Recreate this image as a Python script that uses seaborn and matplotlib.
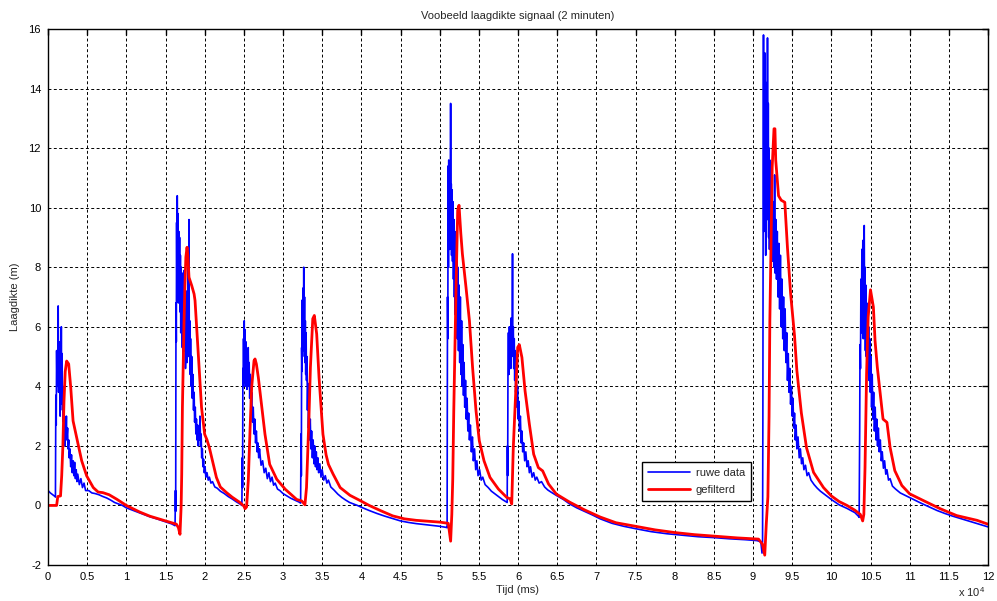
import matplotlib
matplotlib.use("Agg")
import matplotlib.pyplot as plt
import seaborn as sns
import pandas as pd

# ---------------- data (time in units of 10^4 ms, thickness in m) ----------------
raw_points = [
    (0.00, 0.50), (0.03, 0.42), (0.06, 0.36), (0.09, 0.30), (0.095, 0.28),
    (0.098, 2.8), (0.100, 3.7), (0.105, 2.7), (0.110, 5.2), (0.115, 4.0), (0.120, 5.0), (0.125, 4.3),
    (0.130, 6.7), (0.135, 3.8), (0.140, 5.5), (0.145, 4.4), (0.150, 5.2), (0.155, 3.0), (0.160, 4.9),
    (0.165, 3.6), (0.170, 6.0), (0.175, 3.4), (0.180, 5.1), (0.185, 3.2), (0.190, 4.0), (0.195, 2.8),
    (0.200, 3.3), (0.205, 2.4), (0.210, 3.0), (0.215, 2.0), (0.220, 2.9), (0.228, 2.3), (0.235, 3.0),
    (0.240, 2.2), (0.250, 2.6), (0.255, 1.9), (0.265, 2.2), (0.270, 1.6), (0.280, 1.9), (0.290, 1.3),
    (0.300, 1.7), (0.310, 1.1), (0.320, 1.5), (0.330, 1.0), (0.340, 1.45), (0.350, 0.9), (0.360, 1.2),
    (0.370, 0.8), (0.380, 1.05), (0.400, 0.7), (0.420, 0.9), (0.440, 0.6), (0.460, 0.75), (0.480, 0.5),
    (0.520, 0.5), (0.560, 0.42), (0.600, 0.40), (0.650, 0.36), (0.700, 0.30), (0.750, 0.25),
    (0.800, 0.18), (0.850, 0.10), (0.900, 0.05), (0.950, 0.0), (1.000, -0.08), (1.100, -0.18),
    (1.200, -0.28), (1.300, -0.38), (1.400, -0.46), (1.500, -0.55), (1.580, -0.62), (1.622, -0.68),
    (1.627, 0.5), (1.630, -0.2), (1.634, 6.8), (1.638, 5.5), (1.642, 9.5), (1.646, 7.0), (1.650, 10.4),
    (1.655, 8.0), (1.660, 9.8), (1.665, 6.8), (1.670, 9.2), (1.675, 7.2), (1.680, 9.0), (1.685, 6.5),
    (1.690, 8.4), (1.695, 5.8), (1.700, 8.0), (1.705, 6.2), (1.710, 7.6), (1.715, 5.3), (1.720, 7.8),
    (1.725, 5.0), (1.730, 7.5), (1.735, 5.6), (1.740, 7.9), (1.745, 5.2), (1.750, 7.0), (1.755, 4.6),
    (1.760, 6.6), (1.765, 5.0), (1.770, 7.2), (1.775, 4.8), (1.780, 6.5), (1.785, 5.0), (1.790, 8.0),
    (1.795, 5.5), (1.800, 9.6), (1.804, 5.0), (1.810, 6.2), (1.815, 4.4), (1.820, 5.6), (1.828, 4.0),
    (1.835, 5.0), (1.842, 3.6), (1.850, 4.4), (1.858, 3.2), (1.865, 3.8), (1.872, 2.8), (1.880, 3.3),
    (1.888, 2.4), (1.895, 2.9), (1.902, 2.2), (1.910, 2.7), (1.918, 2.0), (1.925, 2.6), (1.932, 2.2),
    (1.940, 3.0), (1.948, 2.0), (1.955, 2.4), (1.962, 1.6), (1.970, 1.9), (1.978, 1.3), (1.986, 1.55),
    (1.995, 1.1), (2.005, 1.3), (2.015, 0.95), (2.030, 1.1), (2.045, 0.85), (2.060, 0.95), (2.080, 0.75),
    (2.100, 0.8), (2.130, 0.62), (2.160, 0.58), (2.200, 0.48), (2.250, 0.40), (2.300, 0.30),
    (2.350, 0.22), (2.400, 0.13), (2.450, 0.05), (2.475, 0.0),
    (2.480, 1.6), (2.484, 0.6), (2.488, 4.6), (2.492, 4.0), (2.496, 5.6), (2.500, 4.2), (2.505, 6.2),
    (2.510, 4.6), (2.515, 5.9), (2.520, 4.0), (2.525, 5.5), (2.530, 4.3), (2.535, 5.2), (2.540, 3.9),
    (2.545, 5.0), (2.550, 4.2), (2.556, 5.3), (2.562, 4.0), (2.568, 4.8), (2.575, 3.6), (2.582, 4.4),
    (2.590, 3.2), (2.600, 3.8), (2.610, 2.8), (2.620, 3.3), (2.630, 2.4), (2.640, 2.9), (2.650, 2.1),
    (2.660, 2.5), (2.670, 1.8), (2.680, 2.1), (2.690, 1.6), (2.700, 1.9), (2.720, 1.35), (2.740, 1.5),
    (2.760, 1.1), (2.780, 1.25), (2.800, 0.9), (2.820, 1.1), (2.840, 0.8), (2.860, 0.95), (2.880, 0.68),
    (2.900, 0.75), (2.930, 0.55), (2.960, 0.5), (3.000, 0.4), (3.050, 0.32), (3.100, 0.24),
    (3.150, 0.18), (3.200, 0.12), (3.225, 0.08),
    (3.230, 2.4), (3.234, 1.0), (3.238, 5.3), (3.242, 4.5), (3.246, 6.9), (3.250, 5.0), (3.255, 7.3),
    (3.260, 5.6), (3.265, 8.0), (3.270, 5.2), (3.275, 7.0), (3.280, 4.8), (3.285, 6.2), (3.290, 4.4),
    (3.295, 5.8), (3.300, 4.2), (3.306, 5.0), (3.312, 3.2), (3.318, 4.1), (3.325, 2.6), (3.332, 3.4),
    (3.340, 2.2), (3.348, 2.9), (3.356, 1.9), (3.365, 2.5), (3.375, 1.6), (3.385, 2.2), (3.395, 1.4),
    (3.405, 2.0), (3.415, 1.3), (3.425, 1.8), (3.435, 1.2), (3.445, 1.6), (3.455, 1.1), (3.470, 1.4),
    (3.485, 0.95), (3.500, 1.2), (3.520, 0.85), (3.540, 1.0), (3.560, 0.75), (3.580, 0.85),
    (3.610, 0.62), (3.650, 0.52), (3.700, 0.38), (3.750, 0.27), (3.800, 0.18), (3.850, 0.10),
    (3.900, 0.05), (3.950, 0.0), (4.000, -0.06), (4.100, -0.17), (4.200, -0.27), (4.300, -0.36),
    (4.400, -0.44), (4.500, -0.52), (4.600, -0.57), (4.700, -0.61), (4.800, -0.64), (4.900, -0.67),
    (5.000, -0.70), (5.090, -0.74), (5.095, -0.75),
    (5.098, 3.0), (5.100, 7.0), (5.104, 5.6), (5.108, 11.4), (5.112, 8.0), (5.116, 11.6), (5.120, 9.8),
    (5.124, 11.0), (5.128, 8.6), (5.132, 11.3), (5.136, 9.4), (5.140, 13.5), (5.144, 9.0), (5.148, 10.8),
    (5.152, 8.4), (5.158, 10.6), (5.164, 8.2), (5.170, 10.2), (5.176, 7.6), (5.182, 9.6), (5.188, 7.0),
    (5.194, 9.2), (5.200, 6.4), (5.206, 8.8), (5.212, 6.0), (5.218, 8.4), (5.225, 5.6), (5.232, 8.0),
    (5.240, 5.2), (5.248, 7.4), (5.256, 4.8), (5.264, 7.0), (5.272, 4.4), (5.280, 6.2), (5.288, 4.0),
    (5.296, 5.4), (5.304, 3.7), (5.312, 4.8), (5.320, 3.3), (5.330, 4.2), (5.340, 2.9), (5.350, 3.6),
    (5.360, 2.5), (5.370, 3.1), (5.380, 2.2), (5.392, 2.7), (5.405, 1.8), (5.418, 2.3), (5.430, 1.5),
    (5.445, 1.9), (5.460, 1.2), (5.475, 1.5), (5.490, 1.0), (5.510, 1.2), (5.530, 0.85), (5.550, 0.95),
    (5.580, 0.7), (5.620, 0.6), (5.660, 0.48), (5.700, 0.4), (5.750, 0.3), (5.800, 0.2), (5.850, 0.12),
    (5.862, 0.1),
    (5.865, 2.0), (5.868, 1.0), (5.872, 4.6), (5.878, 5.8), (5.884, 4.4), (5.890, 6.0), (5.896, 4.8),
    (5.902, 5.8), (5.908, 4.6), (5.914, 6.3), (5.920, 5.0), (5.926, 6.2), (5.930, 8.45), (5.934, 5.4),
    (5.940, 6.0), (5.946, 4.6), (5.952, 5.6), (5.958, 4.2), (5.964, 5.2), (5.970, 3.8), (5.978, 4.6),
    (5.986, 3.3), (5.994, 4.0), (6.002, 2.9), (6.010, 3.5), (6.020, 2.5), (6.030, 3.0), (6.040, 2.1),
    (6.050, 2.5), (6.060, 1.8), (6.072, 2.1), (6.085, 1.5), (6.100, 1.8), (6.115, 1.3), (6.130, 1.5),
    (6.145, 1.1), (6.160, 1.3), (6.180, 0.95), (6.200, 1.1), (6.220, 0.85), (6.240, 0.95), (6.270, 0.75),
    (6.300, 0.8), (6.340, 0.62), (6.380, 0.52), (6.420, 0.45), (6.500, 0.32), (6.580, 0.2),
    (6.660, 0.05), (6.750, -0.08), (6.850, -0.2), (6.950, -0.32), (7.050, -0.45), (7.200, -0.6),
    (7.350, -0.7), (7.500, -0.78), (7.700, -0.88), (7.900, -0.95), (8.100, -1.0), (8.300, -1.05),
    (8.500, -1.08), (8.700, -1.12), (8.900, -1.15), (9.050, -1.18), (9.100, -1.22), (9.115, -1.6),
    (9.122, -1.2), (9.126, 2.8), (9.130, 10.9), (9.134, 15.8), (9.138, 9.2), (9.142, 14.0), (9.146, 10.6),
    (9.150, 15.2), (9.154, 11.0), (9.158, 13.0), (9.162, 8.4), (9.166, 12.2), (9.170, 10.0),
    (9.175, 14.2), (9.180, 10.4), (9.185, 15.7), (9.190, 9.6), (9.195, 13.5), (9.200, 9.0),
    (9.205, 12.0), (9.210, 8.6), (9.215, 11.6), (9.220, 8.8), (9.228, 11.2), (9.236, 8.4),
    (9.244, 10.6), (9.252, 8.2), (9.260, 10.2), (9.268, 8.0), (9.276, 11.1), (9.284, 7.8),
    (9.292, 9.6), (9.300, 7.6), (9.310, 9.2), (9.320, 7.0), (9.330, 8.8), (9.340, 6.6), (9.350, 8.4),
    (9.360, 6.0), (9.370, 7.6), (9.380, 5.6), (9.390, 7.0), (9.400, 5.2), (9.410, 6.6), (9.420, 4.8),
    (9.430, 5.8), (9.440, 4.2), (9.450, 5.1), (9.460, 3.8), (9.470, 4.6), (9.480, 3.4), (9.490, 4.0),
    (9.500, 3.0), (9.510, 3.6), (9.520, 2.6), (9.530, 3.1), (9.540, 2.2), (9.550, 2.7), (9.560, 1.9),
    (9.575, 2.3), (9.590, 1.6), (9.605, 1.9), (9.620, 1.4), (9.635, 1.6), (9.650, 1.2), (9.670, 1.35),
    (9.690, 1.0), (9.710, 1.1), (9.740, 0.85), (9.780, 0.7), (9.820, 0.58), (9.860, 0.48),
    (9.920, 0.36), (10.00, 0.2), (10.10, 0.02), (10.20, -0.1), (10.30, -0.24), (10.345, -0.36),
    (10.355, -0.4), (10.362, 2.5), (10.366, 5.4), (10.372, 4.6), (10.378, 7.6), (10.384, 5.8),
    (10.390, 8.6), (10.396, 6.2), (10.402, 8.9), (10.408, 5.6), (10.414, 8.2), (10.420, 9.4),
    (10.425, 6.0), (10.430, 8.0), (10.435, 5.2), (10.440, 7.4), (10.446, 5.0), (10.452, 6.8),
    (10.458, 4.8), (10.464, 6.4), (10.470, 4.6), (10.476, 6.0), (10.482, 4.2), (10.490, 5.6),
    (10.498, 3.8), (10.506, 5.0), (10.514, 3.3), (10.522, 4.4), (10.530, 2.9), (10.540, 3.8),
    (10.550, 2.5), (10.560, 3.3), (10.570, 2.2), (10.580, 2.9), (10.590, 2.0), (10.600, 2.6),
    (10.612, 1.8), (10.625, 2.2), (10.638, 1.5), (10.650, 1.8), (10.665, 1.25), (10.680, 1.5),
    (10.695, 1.05), (10.710, 1.2), (10.730, 0.85), (10.750, 0.9), (10.780, 0.65), (10.820, 0.55),
    (10.880, 0.42), (10.950, 0.33), (11.050, 0.2), (11.150, 0.07), (11.250, -0.05), (11.350, -0.17),
    (11.450, -0.27), (11.550, -0.36), (11.650, -0.44), (11.750, -0.52), (11.850, -0.6),
    (11.950, -0.68), (12.000, -0.72),
]

filtered_points = [
    (0.000, 0.0), (0.110, 0.0), (0.125, 0.3), (0.160, 0.32), (0.175, 1.0), (0.190, 2.0), (0.204, 3.5),
    (0.220, 4.5), (0.238, 4.85), (0.264, 4.75), (0.290, 3.97), (0.320, 2.84), (0.366, 2.28),
    (0.430, 1.5), (0.494, 0.99), (0.578, 0.6), (0.640, 0.45), (0.700, 0.43), (0.780, 0.36),
    (0.877, 0.21), (1.000, 0.0), (1.170, -0.22), (1.300, -0.36), (1.450, -0.48), (1.550, -0.56),
    (1.640, -0.63), (1.665, -0.75), (1.685, -0.97), (1.700, 0.0), (1.707, 1.05), (1.712, 2.4),
    (1.716, 3.3), (1.725, 4.6), (1.736, 6.1), (1.748, 7.4), (1.760, 8.34), (1.775, 8.67),
    (1.785, 8.4), (1.800, 7.66), (1.835, 7.38), (1.865, 7.1), (1.877, 6.88), (1.900, 5.87),
    (1.930, 4.52), (1.960, 3.29), (2.000, 2.39), (2.030, 2.2), (2.060, 1.94), (2.090, 1.61),
    (2.150, 0.94), (2.200, 0.62), (2.280, 0.43), (2.350, 0.28), (2.450, 0.1), (2.500, -0.02),
    (2.515, -0.11), (2.535, -0.05), (2.557, 0.84), (2.580, 2.6), (2.600, 3.97), (2.630, 4.86),
    (2.643, 4.92), (2.660, 4.75), (2.685, 4.3), (2.730, 3.29), (2.770, 2.39), (2.830, 1.38),
    (2.920, 0.88), (3.030, 0.54), (3.175, 0.2), (3.240, 0.15), (3.280, 0.02), (3.300, 0.6),
    (3.330, 2.84), (3.350, 4.64), (3.380, 6.27), (3.400, 6.38), (3.430, 5.76), (3.460, 4.3),
    (3.510, 2.39), (3.550, 1.7), (3.580, 1.38), (3.640, 1.05), (3.730, 0.6), (3.855, 0.34),
    (3.980, 0.17), (4.100, 0.0), (4.250, -0.18), (4.400, -0.35), (4.550, -0.45), (4.700, -0.5),
    (4.850, -0.53), (5.000, -0.56), (5.110, -0.6), (5.140, -1.2), (5.155, -0.3), (5.167, 0.88),
    (5.180, 3.18), (5.210, 7.44), (5.230, 9.91), (5.247, 10.08), (5.270, 9.13), (5.290, 8.45),
    (5.336, 7.33), (5.380, 6.2), (5.420, 4.64), (5.464, 3.18), (5.506, 2.17), (5.566, 1.5),
    (5.643, 0.94), (5.750, 0.55), (5.856, 0.27), (5.900, 0.22), (5.920, 0.05), (5.940, 1.95),
    (5.975, 4.08), (5.996, 5.31), (6.017, 5.4), (6.050, 4.97), (6.090, 3.85), (6.145, 2.73),
    (6.200, 1.72), (6.260, 1.27), (6.315, 1.16), (6.390, 0.72), (6.490, 0.38), (6.660, 0.11),
    (6.850, -0.15), (7.050, -0.39), (7.250, -0.58), (7.500, -0.7), (7.750, -0.82), (8.000, -0.91),
    (8.250, -0.98), (8.500, -1.03), (8.800, -1.09), (9.070, -1.13), (9.120, -1.3), (9.150, -1.67),
    (9.170, -0.6), (9.190, 0.29), (9.205, 3.0), (9.215, 6.18), (9.245, 11.36), (9.268, 12.65),
    (9.280, 12.65), (9.290, 11.6), (9.326, 10.4), (9.360, 10.25), (9.406, 10.18), (9.440, 8.65),
    (9.480, 7.12), (9.530, 5.7), (9.560, 4.53), (9.617, 3.11), (9.683, 1.94), (9.773, 1.11),
    (9.900, 0.6), (10.00, 0.32), (10.10, 0.13), (10.20, 0.0), (10.30, -0.16), (10.37, -0.3),
    (10.40, -0.52), (10.415, -0.3), (10.43, 1.27), (10.45, 4.42), (10.47, 6.32), (10.50, 7.24),
    (10.537, 6.66), (10.558, 5.53), (10.587, 4.64), (10.62, 3.85), (10.66, 2.9), (10.71, 2.79),
    (10.75, 1.95), (10.81, 1.17), (10.90, 0.67), (11.00, 0.39), (11.17, 0.17), (11.39, -0.11),
    (11.60, -0.34), (11.86, -0.5), (12.00, -0.63),
]

x_ticks = [0, 0.5, 1, 1.5, 2, 2.5, 3, 3.5, 4, 4.5, 5, 5.5, 6, 6.5, 7, 7.5, 8, 8.5, 9, 9.5,
           10, 10.5, 11, 11.5, 12]
x_tick_labels = ["0", "0.5", "1", "1.5", "2", "2.5", "3", "3.5", "4", "4.5", "5", "5.5", "6",
                 "6.5", "7", "7.5", "8", "8.5", "9", "9.5", "10", "10.5", "11", "11.5", "12"]
y_ticks = [-2, 0, 2, 4, 6, 8, 10, 12, 14, 16]
y_tick_labels = ["-2", "0", "2", "4", "6", "8", "10", "12", "14", "16"]

series_names = ["ruwe data", "gefilterd"]
title_text = "Voobeeld laagdikte signaal (2 minuten)"
x_label = "Tijd (ms)"
y_label = "Laagdikte (m)"

# ---------------- build frames ----------------
raw_df = pd.DataFrame(raw_points, columns=["t", "h"])
filt_df = pd.DataFrame(filtered_points, columns=["t", "h"])

sns.set_style("white")
plt.rcParams["font.family"] = ["Liberation Sans", "DejaVu Sans"]
plt.rcParams["mathtext.default"] = "regular"

fig = plt.figure(figsize=(9.97, 6.01), dpi=100)
ax = fig.add_axes([48 / 997, 36 / 601, 940 / 997, 536 / 601])

sns.lineplot(data=raw_df, x="t", y="h", ax=ax, color="#0000FF", linewidth=1.2,
             estimator=None, sort=False, label=series_names[0])
sns.lineplot(data=filt_df, x="t", y="h", ax=ax, color="#FF0000", linewidth=2.0,
             estimator=None, sort=False, label=series_names[1])

ax.set_xlim(0, 12)
ax.set_ylim(-2, 16)
ax.set_xticks(x_ticks)
ax.set_xticklabels(x_tick_labels)
ax.set_yticks(y_ticks)
ax.set_yticklabels(y_tick_labels)

ax.grid(True, color="black", linestyle=(0, (3, 2.5)), linewidth=0.7)
ax.set_axisbelow(True)
ax.tick_params(direction="in", length=4, width=1, top=True, right=True,
               labelsize=8, pad=5, colors="black")
for sp in ax.spines.values():
    sp.set_color("black")
    sp.set_linewidth(1.0)

ax.set_title(title_text, fontsize=8, pad=7)
ax.set_xlabel(x_label, fontsize=8, labelpad=2)
ax.set_ylabel(y_label, fontsize=8, labelpad=6)

fig.text(0.961, 0.004, r"x 10$^{4}$", fontsize=8, ha="left", va="bottom")

leg = ax.legend(loc="upper left", bbox_to_anchor=(0.632, 0.192), fontsize=8,
                handlelength=3.8, frameon=True, fancybox=False, borderaxespad=0,
                borderpad=0.55, labelspacing=0.6, handletextpad=0.5)
leg.get_frame().set_edgecolor("black")
leg.get_frame().set_linewidth(1.0)
leg.get_frame().set_facecolor("white")
leg.get_frame().set_alpha(1.0)

fig.savefig("out.png", dpi=100)
